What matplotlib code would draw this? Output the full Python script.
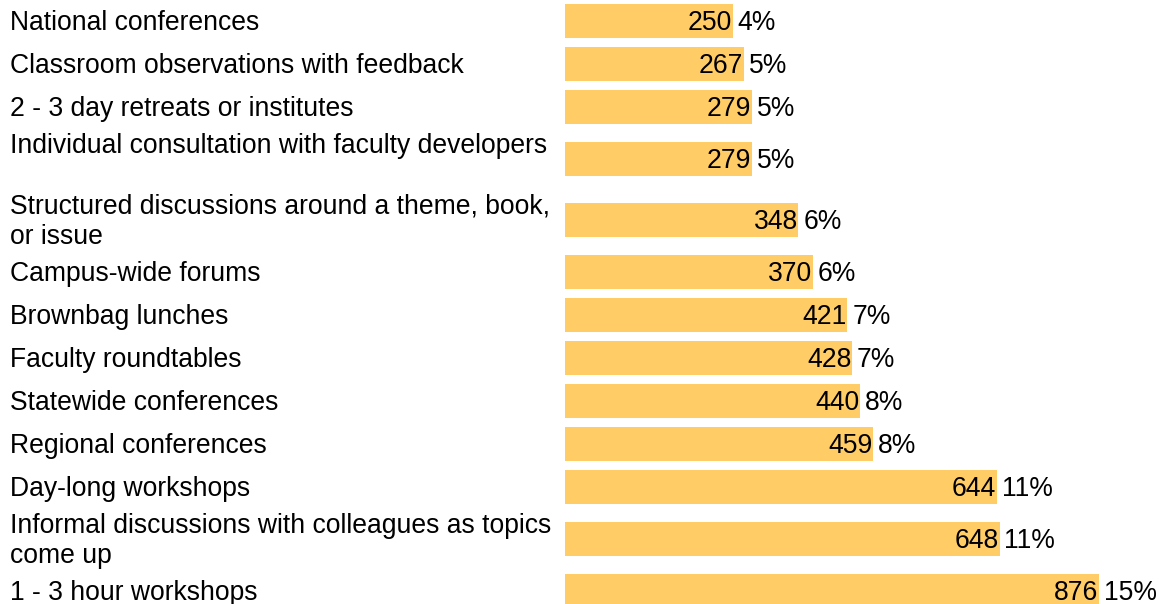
import matplotlib.pyplot as plt
from matplotlib.transforms import blended_transform_factory

plt.rcParams['font.family'] = ['Liberation Sans', 'DejaVu Sans']

categories = [
    "National conferences",
    "Classroom observations with feedback",
    "2 - 3 day retreats or institutes",
    "Individual consultation with faculty developers\n",
    "Structured discussions around a theme, book,\nor issue",
    "Campus-wide forums",
    "Brownbag lunches",
    "Faculty roundtables",
    "Statewide conferences",
    "Regional conferences",
    "Day-long workshops",
    "Informal discussions with colleagues as topics\ncome up",
    "1 - 3 hour workshops",
]
values = [250, 267, 279, 279, 348, 370, 421, 428, 440, 459, 644, 648, 876]
pcts = ["4%", "5%", "5%", "5%", "6%", "6%", "7%", "7%", "8%", "8%", "11%", "11%", "15%"]

BAR_COLOR = "#FFCC66"
FS = 19.1
XMAX = 796

# row slots (pixel units): taller rows for two-line labels
slots = [61 if "\n" in c else 43 for c in categories]
centers = []
y = 0
for s in slots:
    centers.append(y + s / 2)
    y += s
shift = 21 - centers[0]
centers = [c + shift for c in centers]

fig = plt.figure(figsize=(11.59, 6.04), dpi=100)
ax = fig.add_axes([565 / 1159, 0, (1099 - 565) / 1159, 1])
ax.barh(centers, values, height=34.5, color=BAR_COLOR, edgecolor="none")
ax.set_xlim(0, XMAX)
ax.set_ylim(604, 0)
ax.axis("off")

for yc, v, p in zip(centers, values, pcts):
    xe = min(v, XMAX)
    ax.text(xe - 1, yc + 2, str(v), ha="right", va="center", fontsize=FS, clip_on=False)
    ax.text(xe + 7, yc + 2, p, ha="left", va="center", fontsize=FS, clip_on=False)

trans = blended_transform_factory(fig.transFigure, ax.transData)
for yc, c in zip(centers, categories):
    ax.text(10 / 1159, yc + 2, c, transform=trans, ha="left", va="center",
            fontsize=FS, linespacing=1.22, clip_on=False)

fig.savefig("out.png", dpi=100)
